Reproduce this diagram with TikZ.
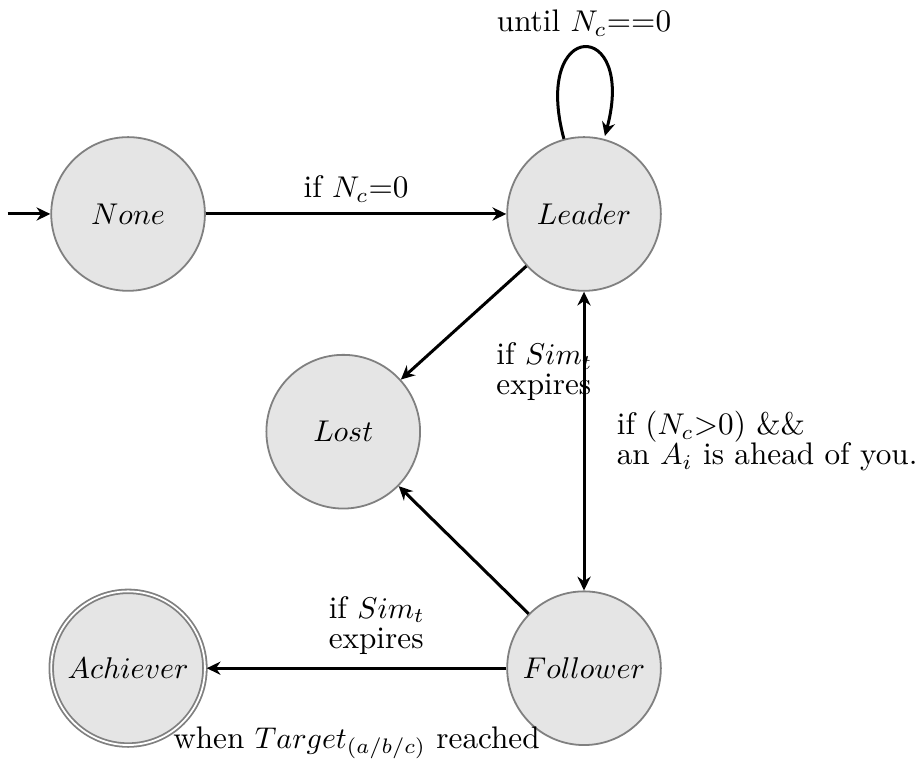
\documentclass[tikz,border=0pt]{standalone}
\usetikzlibrary{automata,arrows.meta}
\begin{document}
\begin{tikzpicture}[->, >={Stealth[length=4.6pt, width=4.4pt, inset=1.5pt]}, line width=1pt,
  font=\fontsize{10.4}{10}\selectfont,
  every state/.style={draw=black!50, line width=0.6pt, fill=gray!20, minimum size=1.8cm, inner sep=0pt},
  initial text={}, initial distance=0.5cm]
\useasboundingbox (-1.5,-6.38) rectangle (9.24,2.506);
\node[state, initial] (none) at (0,0) {$None$};
\node[state] (leader) at (5.34,0) {$Leader$};
\node[state] (lost) at (2.52,-2.55) {$Lost$};
\node[state] (follower) at (5.34,-5.32) {$Follower$};
\node[state, accepting] (achiever) at (0,-5.32) {$Achiever$};
\draw (none) -- node[above] {if $N_c$=0} (leader);
\draw (leader) edge[loop above] node[above] {until $N_c$==0} (leader);
\draw (leader) -- node[pos=0.5, anchor=north west, xshift=0.25cm, yshift=-0.1cm, align=left] {if $Sim_t$\\expires} (lost);
\draw[<->] (leader) -- node[right=0.25cm, align=left] {if ($N_c$>0) \&\&\\an $A_i$ is ahead of you.} (follower);
\draw (follower) -- node[pos=0.5, anchor=north east, xshift=-0.32cm, yshift=-0.41cm, align=left] {if $Sim_t$\\expires} (lost);
\draw (follower) -- node[below=0.55cm] {when $Target_{(a/b/c)}$ reached} (achiever);
\end{tikzpicture}
\end{document}
